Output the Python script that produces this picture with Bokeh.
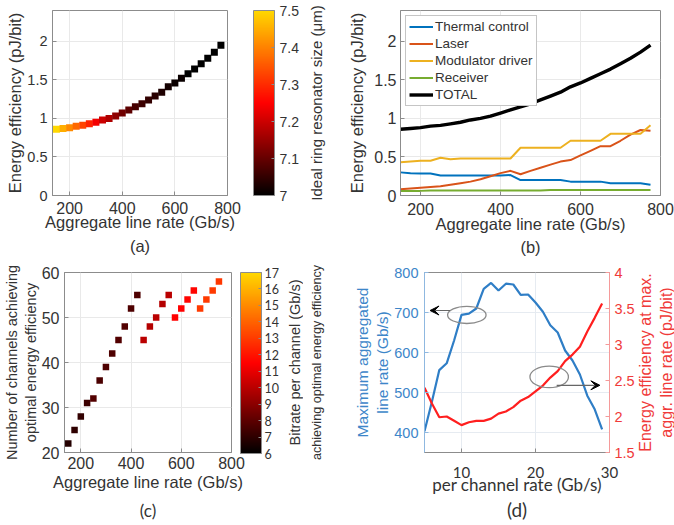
import math
from bokeh.plotting import figure
from bokeh.layouts import column, row
from bokeh.models import (LinearColorMapper, ColorBar, Title, Legend, LegendItem,
                          Range1d, LinearAxis, FixedTicker, ColumnDataSource, Arrow, VeeHead)
from bokeh.transform import transform
from bokeh.embed import file_html
from bokeh.resources import INLINE

# ---------------- data ----------------
agg_rate = [150, 175, 200, 225, 250, 275, 300, 325, 350, 375, 400, 425, 450,
            475, 500, 525, 550, 575, 600, 625, 650, 675, 700, 725, 750, 775]
total_eff = [0.86, 0.87, 0.88, 0.90, 0.91, 0.93, 0.95, 0.98, 1.00, 1.03, 1.07, 1.11, 1.15,
             1.19, 1.24, 1.29, 1.34, 1.41, 1.46, 1.52, 1.58, 1.64, 1.71, 1.78, 1.86, 1.95]
ring_size = [7.50, 7.45, 7.41, 7.37, 7.33, 7.29, 7.24, 7.20, 7.17, 7.14, 7.11, 7.09, 7.07,
             7.06, 7.05, 7.04, 7.03, 7.02, 7.01, 7.01, 7.00, 7.00, 7.00, 7.00, 7.00, 7.00]
thermal = [0.30, 0.29, 0.285, 0.285, 0.26, 0.26, 0.26, 0.26, 0.26, 0.26, 0.26, 0.265, 0.20,
           0.20, 0.20, 0.20, 0.20, 0.18, 0.18, 0.18, 0.18, 0.16, 0.16, 0.16, 0.16, 0.14]
laser = [0.08, 0.09, 0.10, 0.11, 0.12, 0.14, 0.16, 0.18, 0.21, 0.25, 0.29, 0.32, 0.275,
         0.32, 0.36, 0.40, 0.44, 0.46, 0.52, 0.58, 0.64, 0.64, 0.71, 0.79, 0.85, 0.84]
modulator = [0.43, 0.44, 0.45, 0.45, 0.49, 0.47, 0.48, 0.48, 0.48, 0.48, 0.48, 0.48, 0.62,
             0.62, 0.62, 0.62, 0.62, 0.71, 0.71, 0.71, 0.71, 0.80, 0.80, 0.80, 0.80, 0.91]
receiver = [0.06, 0.06, 0.06, 0.065, 0.065, 0.065, 0.065, 0.065, 0.065, 0.065, 0.065, 0.065, 0.065,
            0.065, 0.065, 0.07, 0.07, 0.07, 0.07, 0.07, 0.07, 0.07, 0.07, 0.07, 0.07, 0.07]

agg_c = [150, 175, 200, 225, 250, 275, 300, 325, 350, 375, 400, 425, 450,
         475, 500, 525, 550, 575, 600, 625, 650, 675, 700, 725, 750]
channels = [22, 25, 28, 31, 32, 36, 39, 42, 45, 48, 52, 55, 45,
            48, 50, 53, 55, 50, 52, 54, 56, 52, 54, 56, 58]
bitrate = [6.8, 7.0, 7.1, 7.3, 7.8, 7.6, 7.7, 7.7, 7.8, 7.8, 7.7, 7.7, 10.0,
           9.9, 10.0, 9.9, 10.0, 11.5, 11.5, 11.6, 11.6, 13.0, 13.0, 13.0, 12.9]

per_ch = [5, 6, 7, 8, 9, 10, 11, 12, 13, 14, 15, 16, 17, 18, 19, 20, 21, 22, 23, 24, 25, 26, 27, 28, 29]
max_rate = [403, 477, 556, 573, 630, 694, 697, 710, 759, 774, 755, 772, 770, 744, 745, 725,
            702, 668, 650, 605, 580, 545, 492, 458, 408]
eff_at_max = [2.40, 2.18, 1.99, 2.00, 1.94, 1.88, 1.92, 1.94, 1.94, 1.97, 2.04, 2.07, 2.13,
              2.22, 2.27, 2.35, 2.43, 2.54, 2.63, 2.77, 2.86, 2.97, 3.18, 3.37, 3.57]

# annotation (ellipses / arrows) in panel d, data coordinates
ell_x = [10.72, 21.85]
ell_y = [694, 539]
ell_w = [5.2, 5.2]
ell_h = [43, 54]

FONT = "Liberation Sans"
FONT2 = "Lato"
TXT = "#333333"
GRID = "#e9e9e9"
FRAME = "#8c8c8c"
BLUE_D = "#2f7ec6"
RED_D = "#ff1f1f"
BLUE_T = "#3d86c9"
RED_T = "#f03a3a"


def hot_palette(n=256):
    pal = []
    for i in range(n):
        t = i / (n - 1)
        r = min(1.0, t / 0.5)
        g = max(0.0, (t - 0.5) / 0.5) * 0.85
        pal.append("#%02x%02x%02x" % (int(r * 255), int(g * 255), 0))
    return pal


HOT = hot_palette()


def set_if(model, name, val):
    if name in model.properties():
        setattr(model, name, val)


def base_fig(w, h, xr, yr, ml, mr, mt, mb):
    p = figure(width=w, height=h, x_range=Range1d(*xr), y_range=Range1d(*yr),
               output_backend="svg", toolbar_location=None,
               min_border_left=ml, min_border_right=mr, min_border_top=mt, min_border_bottom=mb)
    p.outline_line_color = FRAME
    p.background_fill_color = "white"
    p.xgrid.grid_line_color = GRID
    p.ygrid.grid_line_color = GRID
    return p


def style_axis(ax, ticks, size, color=TXT, font=FONT, standoff=5, line=FRAME, overrides=None,
               label=None, lsize="16.5px", lcolor=TXT, lfont=FONT, lstandoff=0):
    ax.ticker = FixedTicker(ticks=ticks)
    ax.axis_line_color = line
    ax.major_tick_line_color = line
    ax.major_tick_in = 4
    ax.major_tick_out = 0
    ax.minor_tick_line_color = None
    ax.major_label_text_font = font
    ax.major_label_text_font_size = size
    ax.major_label_text_color = color
    ax.major_label_standoff = standoff
    if overrides:
        ax.major_label_overrides = overrides
    if label is not None:
        ax.axis_label = label
        ax.axis_label_text_font = lfont
        ax.axis_label_text_font_size = lsize
        ax.axis_label_text_color = lcolor
        ax.axis_label_text_font_style = "normal"
        ax.axis_label_standoff = lstandoff


def bare_axis(ax, label, size, standoff, color=TXT, font=FONT):
    ax.ticker = FixedTicker(ticks=[])
    ax.axis_line_color = None
    ax.major_tick_line_color = None
    ax.minor_tick_line_color = None
    ax.major_tick_out = 0
    ax.major_tick_in = 0
    ax.major_label_standoff = 0
    ax.axis_label = label
    ax.axis_label_text_font = font
    ax.axis_label_text_font_size = size
    ax.axis_label_text_color = color
    ax.axis_label_text_font_style = "normal"
    ax.axis_label_standoff = standoff


def spacer_axis(p, gap):
    ax = LinearAxis()
    bare_axis(ax, " ", "1px", gap)
    p.add_layout(ax, "right")


def label_fig(w, h, mt, mb, text, size, standoff, color=TXT):
    """narrow strip whose left-axis title carries a rotated text (bottom-to-top)"""
    p = figure(width=w, height=h, x_range=Range1d(0, 1), y_range=Range1d(0, 1),
               output_backend="svg", toolbar_location=None,
               min_border_left=w - 1, min_border_right=0, min_border_top=mt, min_border_bottom=mb)
    p.outline_line_color = None
    p.xgrid.visible = False
    p.ygrid.visible = False
    p.xaxis.visible = False
    bare_axis(p.yaxis[0], text, size, standoff, color=color)
    return p


def tag(p, text, size, font, offset, standoff):
    t = Title(text=text, align="center", text_font=font, text_font_size=size,
              text_font_style="normal", text_color=TXT, offset=offset)
    set_if(t, "standoff", standoff)
    p.add_layout(t, "below")


def cbar(mapper, ticks, height, font, size, standoff, overrides=None):
    cb = ColorBar(color_mapper=mapper, ticker=FixedTicker(ticks=ticks),
                  width=21, height=height, padding=0, margin=0,
                  major_label_text_font=font, major_label_text_font_size=size,
                  major_label_text_color=TXT, label_standoff=standoff,
                  major_tick_line_color=FRAME, major_tick_in=3, major_tick_out=0,
                  minor_tick_line_color=None, bar_line_color=FRAME,
                  border_line_color=None, background_fill_color=None)
    if overrides:
        cb.major_label_overrides = overrides
    return cb


# ---------------- panel (a) ----------------
pa = base_fig(301, 262, (135, 800), (0, 2.4), 52, 70, 10, 67)
map_a = LinearColorMapper(palette=HOT, low=7.0, high=7.5)
src_a = ColumnDataSource(dict(x=agg_rate, y=total_eff, c=ring_size))
pa.scatter("x", "y", source=src_a, marker="square", size=7,
           fill_color=transform("c", map_a), line_color=None)
style_axis(pa.xaxis[0], [200, 400, 600, 800], "16px", standoff=6,
           label="Aggregate line rate (Gb/s)", lstandoff=-4)
style_axis(pa.yaxis[0], [0, 0.5, 1, 1.5, 2], "14.5px", standoff=5,
           overrides={0: "0", 1: "1", 2: "2"},
           label="Energy efficiency (pJ/bit)", lstandoff=0)
spacer_axis(pa, 22)
pa.add_layout(cbar(map_a, [7, 7.1, 7.2, 7.3, 7.4, 7.5], 185, FONT, "14px", 5, {7: "7"}), "right")
tag(pa, "(a)", "16.5px", FONT, 2, 2)
la = label_fig(36, 262, 10, 67, "Ideal ring resonator size (\u03bcm)", "15px", 12)

# ---------------- panel (b) ----------------
pb = base_fig(337, 262, (150, 800), (0, 2.4), 63, 14, 5, 66)
r1 = pb.line(agg_rate, thermal, line_color="#0072BD", line_width=2)
r2 = pb.line(agg_rate, laser, line_color="#D95319", line_width=2)
r3 = pb.line(agg_rate, modulator, line_color="#EDB120", line_width=2)
r4 = pb.line(agg_rate, receiver, line_color="#77AC30", line_width=2)
r5 = pb.line(agg_rate, total_eff, line_color="black", line_width=3.4)
style_axis(pb.xaxis[0], [200, 400, 600, 800], "16px", standoff=7,
           label="Aggregate line rate (Gb/s)", lstandoff=-3)
style_axis(pb.yaxis[0], [0, 0.5, 1, 1.5, 2], "16px", standoff=4,
           overrides={0: "0", 1: "1", 2: "2"},
           label="Energy efficiency (pJ/bit)", lstandoff=5)
leg = Legend(items=[LegendItem(label="Thermal control", renderers=[r1]),
                    LegendItem(label="Laser", renderers=[r2]),
                    LegendItem(label="Modulator driver", renderers=[r3]),
                    LegendItem(label="Receiver", renderers=[r4]),
                    LegendItem(label="TOTAL", renderers=[r5])],
             location="top_left", margin=5, padding=3, spacing=2,
             glyph_width=24, glyph_height=15, label_height=15, label_standoff=2,
             label_text_font=FONT, label_text_font_size="13.5px", label_text_color=TXT,
             border_line_color=FRAME, background_fill_color="white", background_fill_alpha=1)
pb.add_layout(leg)
tag(pb, "(b)", "16.5px", FONT, 9, 0)

# ---------------- panel (c) ----------------
pc = base_fig(282, 263, (135, 800), (20, 60), 64, 51, 7, 73)
map_c = LinearColorMapper(palette=HOT, low=6, high=17)
src_c = ColumnDataSource(dict(x=agg_c, y=channels, c=bitrate))
pc.scatter("x", "y", source=src_c, marker="square", size=6.5,
           fill_color=transform("c", map_c), line_color=None)
style_axis(pc.xaxis[0], [200, 400, 600, 800], "16px", standoff=4,
           label="Aggregate line rate (Gb/s)", lstandoff=1)
style_axis(pc.yaxis[0], [20, 30, 40, 50, 60], "16px", standoff=5,
           label="Number of channels achieving\noptimal energy efficiency",
           lsize="14.5px", lstandoff=0)
spacer_axis(pc, 5)
pc.add_layout(cbar(map_c, list(range(6, 18)), 181, FONT2, "12.5px", 3), "right")
tag(pc, "(c)", "17px", FONT2, -7, 9)
lc1 = label_fig(21, 263, 7, 73, "Bitrate per channel (Gb/s)", "14.5px", 0)
lc2 = label_fig(34, 263, 7, 73, "achieving optimal energy efficiency", "12.6px", 13)

# ---------------- panel (d) ----------------
pdd = base_fig(300, 263, (5, 30), (350, 800), 87, 27, 10, 73)
pdd.xgrid.grid_line_color = "#e6ebf1"
pdd.ygrid.grid_line_color = "#e6ebf1"
pdd.extra_y_ranges = {"r": Range1d(1.5, 4)}
pdd.line(per_ch, max_rate, line_color=BLUE_D, line_width=2.2)
pdd.line(per_ch, eff_at_max, line_color=RED_D, line_width=2.2, y_range_name="r")
pdd.ellipse(x=ell_x, y=ell_y, width=ell_w, height=ell_h, fill_color=None,
            line_color="#8a8a8a", line_width=1.3)
pdd.add_layout(Arrow(end=VeeHead(size=9, fill_color="black", line_color="black"),
                     x_start=8.45, y_start=705, x_end=5.75, y_end=705,
                     line_color="#666666", line_width=1.2))
pdd.add_layout(Arrow(end=VeeHead(size=9, fill_color="black", line_color="black"),
                     x_start=22.86, y_start=518, x_end=28.7, y_end=518,
                     line_color="#666666", line_width=1.2))
style_axis(pdd.xaxis[0], [10, 20, 30], "15px", font=FONT2, standoff=14,
           label="per channel rate (Gb/s)", lsize="17px", lfont=FONT2, lstandoff=-7)
style_axis(pdd.yaxis[0], [400, 500, 600, 700, 800], "14.5px", color=BLUE_T,
           standoff=6, line="#8fb8e0",
           label="Maximum aggregated\nline rate (Gb/s)", lsize="15.5px", lcolor=BLUE_T,
           lstandoff=0)
ax_r = LinearAxis(y_range_name="r")
pdd.add_layout(ax_r, "right")
style_axis(ax_r, [1.5, 2, 2.5, 3, 3.5, 4], "14.5px", color=RED_T, standoff=5,
           line="#f59a9a", overrides={2: "2", 3: "3", 4: "4"})
tag(pdd, "(d)", "19px", FONT2, 10, -4)
ld = label_fig(37, 263, 10, 73, "Energy efficiency at max.\naggr. line rate (pJ/bit)",
               "16px", 0, color=RED_T)

layout = column(row(pa, la, pb), row(pc, lc1, lc2, pdd, ld))
open("out.html", "w").write(file_html(layout, INLINE))
